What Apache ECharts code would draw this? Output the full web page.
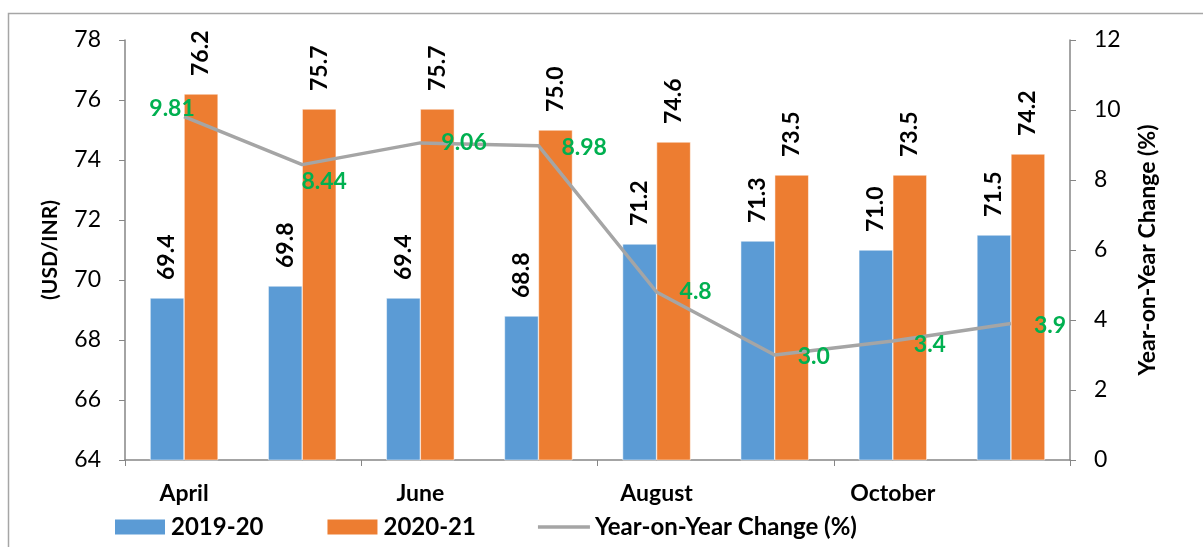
<!DOCTYPE html>
<html>
<head>
<meta charset="utf-8">
<script src="https://cdn.jsdelivr.net/npm/echarts@6/dist/echarts.min.js"></script>
<style>
  html, body { margin: 0; padding: 0; background: #fff; }
  #main { width: 1203px; height: 547px; }
</style>
</head>
<body>
<div id="main"></div>
<script>
// chart data
var months = ['April', 'May', 'June', 'July', 'August', 'September', 'October', 'November'];
var rate2019 = [69.4, 69.8, 69.4, 68.8, 71.2, 71.3, 71.0, 71.5];
var rate2020 = [76.2, 75.7, 75.7, 75.0, 74.6, 73.5, 73.5, 74.2];
var yoyChange = [9.81, 8.44, 9.06, 8.98, 4.8, 3.0, 3.4, 3.9];
var yoyText = ['9.81', '8.44', '9.06', '8.98', '4.8', '3.0', '3.4', '3.9'];
var leftTicks = [64, 66, 68, 70, 72, 74, 76, 78];
var rightTicks = [0, 2, 4, 6, 8, 10, 12];

var FONT = 'Lato';
var myChart = echarts.init(document.getElementById('main'));

// placement of the green line labels
var yoyLabel = [
  {position: 'top', offset: [-12, 8]},
  {position: 'bottom', offset: [22, 0]},
  {position: 'right', offset: [16, 0]},
  {position: 'right', offset: [18, 2]},
  {position: 'right', offset: [18, 0]},
  {position: 'right', offset: [18, 2]},
  {position: 'right', offset: [16, 4]},
  {position: 'right', offset: [18, 2]}
];

var yoyData = yoyChange.map(function (v, i) {
  return {
    value: v,
    label: {position: yoyLabel[i].position, offset: yoyLabel[i].offset}
  };
});

var barLabel = {
  show: true,
  position: 'top',
  rotate: 90,
  align: 'left',
  verticalAlign: 'middle',
  distance: 18,
  color: '#000',
  fontFamily: FONT,
  fontWeight: 'bold',
  fontSize: 23,
  formatter: function (p) { return p.value.toFixed(1); }
};

var option = {
  animation: false,
  textStyle: {fontFamily: FONT},
  graphic: [{
    type: 'rect',
    shape: {x: 8.5, y: 13.5, width: 1400, height: 700},
    style: {fill: 'none', stroke: '#A6A6A6', lineWidth: 1.5},
    silent: true
  }],
  legend: {
    bottom: 3,
    left: 108,
    itemWidth: 52,
    itemHeight: 17,
    itemGap: 62,
    textStyle: {fontFamily: FONT, fontWeight: 'bold', fontSize: 24, color: '#000'},
    data: [
      {name: '2019-20', icon: 'rect'},
      {name: '2020-21', icon: 'rect'},
      {name: 'Year-on-Year Change (%)', icon: 'path://M0,0 L52,0 L52,3.5 L0,3.5 Z'}
    ]
  },
  grid: {left: 125, right: 133, top: 40, bottom: 87},
  xAxis: {
    type: 'category',
    data: months,
    axisLine: {lineStyle: {color: '#868686', width: 1.5}},
    axisTick: {show: true, length: 6, lineStyle: {color: '#868686'}},
    axisLabel: {
      interval: 1,
      margin: 22,
      color: '#000',
      fontFamily: FONT,
      fontWeight: 'bold',
      fontSize: 23
    }
  },
  yAxis: [{
    type: 'value',
    min: leftTicks[0],
    max: leftTicks[leftTicks.length - 1],
    interval: 2,
    name: '(USD/INR)',
    nameLocation: 'middle',
    nameGap: 64,
    nameTextStyle: {color: '#000', fontFamily: FONT, fontWeight: 'bold', fontSize: 21},
    axisLine: {show: true, lineStyle: {color: '#868686', width: 1.5}},
    axisTick: {show: true, length: 6, lineStyle: {color: '#868686'}},
    axisLabel: {color: '#000', fontFamily: FONT, fontSize: 23, margin: 24},
    splitLine: {show: false}
  }, {
    type: 'value',
    min: rightTicks[0],
    max: rightTicks[rightTicks.length - 1],
    interval: 2,
    name: 'Year-on-Year Change (%)',
    nameLocation: 'middle',
    nameGap: 66,
    nameRotate: 90,
    nameTextStyle: {color: '#000', fontFamily: FONT, fontWeight: 'bold', fontSize: 23},
    axisLine: {show: true, lineStyle: {color: '#868686', width: 1.5}},
    axisTick: {show: true, length: 6, lineStyle: {color: '#868686'}},
    axisLabel: {color: '#000', fontFamily: FONT, fontSize: 23, margin: 24},
    splitLine: {show: false}
  }],
  series: [{
    name: '2019-20',
    type: 'bar',
    barWidth: 34,
    barGap: '0%',
    itemStyle: {color: '#5B9BD5', borderColor: '#ffffff', borderWidth: 0.5},
    label: barLabel,
    data: rate2019
  }, {
    name: '2020-21',
    type: 'bar',
    barWidth: 34,
    itemStyle: {color: '#ED7D31', borderColor: '#ffffff', borderWidth: 0.5},
    label: barLabel,
    data: rate2020
  }, {
    name: 'Year-on-Year Change (%)',
    type: 'line',
    yAxisIndex: 1,
    symbol: 'circle',
    symbolSize: 0.01,
    showSymbol: true,
    z: 5,
    lineStyle: {color: '#A5A5A5', width: 3.5},
    itemStyle: {color: '#A5A5A5'},
    label: {
      show: true,
      color: '#00B050',
      fontFamily: FONT,
      fontWeight: 'bold',
      fontSize: 23,
      formatter: function (p) { return yoyText[p.dataIndex]; }
    },
    data: yoyData
  }]
};

myChart.setOption(option);
</script>
</body>
</html>
